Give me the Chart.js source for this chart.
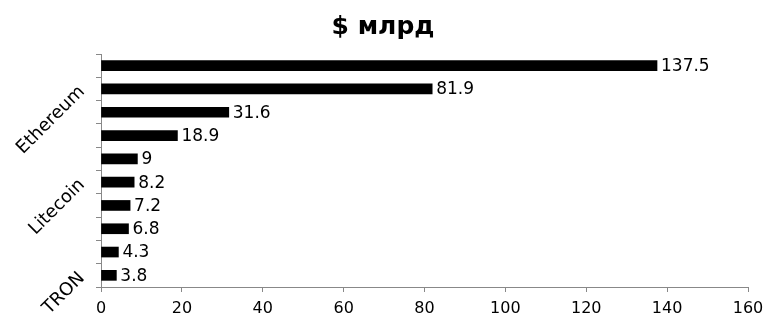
<!DOCTYPE html>
<html>
<head>
<meta charset="utf-8">
<script src="https://cdn.jsdelivr.net/npm/chart.js@4/dist/chart.umd.min.js"></script>
<style>
  html, body { margin: 0; padding: 0; background: #fff; }
  #wrap { width: 766px; height: 315px; }
</style>
</head>
<body>
<div id="wrap"><canvas id="myBarChart"></canvas></div>
<script>
const coins = ['Bitcoin', 'Ethereum', 'Ripple', 'Bitcoin Cash', 'EOS', 'Litecoin', 'Cardano', 'Stellar', 'IOTA', 'TRON']
const capBillions = [137.5, 81.9, 31.6, 18.9, 9, 8.2, 7.2, 6.8, 4.3, 3.8]
const xTicks = [0, 20, 40, 60, 80, 100, 120, 140, 160]

Chart.defaults.font.family = "'DejaVu Sans', sans-serif"
Chart.defaults.color = '#000'

// value labels at the end of each bar
const valueLabels = {
  id: 'valueLabels',
  afterDatasetsDraw(chart) {
    const ctx = chart.ctx
    ctx.save()
    ctx.font = "17px 'DejaVu Sans', sans-serif"
    ctx.fillStyle = '#000'
    ctx.textAlign = 'left'
    ctx.textBaseline = 'middle'
    chart.getDatasetMeta(0).data.forEach((bar, i) => {
      ctx.fillText(String(capBillions[i]), bar.x + 4, bar.y + 1)
    })
    ctx.restore()
  },
}

const ctx = document.getElementById('myBarChart')
new Chart(ctx, {
  type: 'bar',
  data: {
    labels: coins,
    datasets: [
      {
        label: '$ млрд',
        data: capBillions,
        backgroundColor: '#000',
        borderWidth: 0,
        barThickness: 10,
      },
    ],
  },
  options: {
    indexAxis: 'y',
    responsive: true,
    maintainAspectRatio: false,
    animation: false,
    layout: { padding: 0 },
    plugins: {
      legend: { display: false },
      tooltip: { enabled: false },
      title: {
        display: true,
        text: '$ млрд',
        color: '#000',
        font: { size: 25, weight: 'bold' },
        padding: { top: 12, bottom: 12 },
      },
    },
    scales: {
      x: {
        min: 0,
        max: 160,
        afterBuildTicks: (s) => { s.ticks = xTicks.map((v) => ({ value: v })) },
        afterFit: (s) => { s.height = 28; s.paddingRight = 18 },
        grid: { drawOnChartArea: false, tickLength: 5, color: '#888' },
        border: { color: '#888' },
        ticks: { font: { size: 16 }, padding: 7, color: '#000' },
      },
      y: {
        offset: true,
        afterFit: (s) => { s.width = 101 },
        grid: { offset: true, drawOnChartArea: false, tickLength: 5, color: '#888' },
        border: { color: '#888' },
        ticks: {
          font: { size: 18 },
          color: '#000',
          autoSkip: false,
          minRotation: 45,
          maxRotation: 45,
          padding: 14,
          callback: (v, i) => (i % 4 === 1 ? coins[i] : ''),
        },
      },
    },
  },
  plugins: [valueLabels],
})
</script>
</body>
</html>
